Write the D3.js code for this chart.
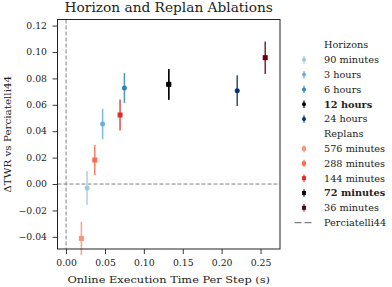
<!DOCTYPE html>
<html><head><meta charset="utf-8">
<script src="https://cdn.jsdelivr.net/npm/d3@7"></script>
<style>body{margin:0;background:#fff}svg{display:block}text{font-family:"DejaVu Serif Condensed","DejaVu Serif",serif;fill:#222}</style>
</head><body><svg id="c" width="392" height="287"></svg>
<script>
const horizonLabels = ["90 minutes","3 hours","6 hours","12 hours","24 hours"];
const horizonX = [0.027, 0.047, 0.075, 0.132, 0.220];
const horizonY = [-0.003, 0.0455, 0.0727, 0.0755, 0.0707];
const horizonErr = [0.0128, 0.0115, 0.0113, 0.0116, 0.0116];
const horizonColors = ["#9ecae1","#6baed6","#3182bd","#000000","#08306b"];

const replanLabels = ["576 minutes","288 minutes","144 minutes","72 minutes","36 minutes"];
const replanX = [0.0197, 0.0369, 0.0694, 0.132, 0.256];
const replanY = [-0.0412, 0.0182, 0.0523, 0.0755, 0.0957];
const replanErr = [0.0126, 0.0113, 0.0118, 0.0116, 0.0123];
const replanColors = ["#fc9272","#fb6a4a","#de2d26","#000000","#67000d"];

const xTicks = [0.00, 0.05, 0.10, 0.15, 0.20, 0.25];
const yTicks = [-0.04, -0.02, 0.00, 0.02, 0.04, 0.06, 0.08, 0.10, 0.12];

const svg = d3.select("#c");
const L = 57.5, R = 280, T = 19.5, B = 249;
const x = d3.scaleLinear().domain([-0.011, 0.275]).range([L, R]);
const y = d3.scaleLinear().domain([-0.0492, 0.1246]).range([B, T]);

// widen condensed glyphs to match the reference's wider serif text
function stretch(sel, f) {
  sel.each(function() {
    const w = this.getComputedTextLength();
    d3.select(this).attr("textLength", w * f).attr("lengthAdjust", "spacingAndGlyphs");
  });
}

svg.append("line").attr("x1", x(0)).attr("x2", x(0)).attr("y1", T).attr("y2", B)
  .attr("stroke", "#808080").attr("stroke-width", 1).attr("stroke-dasharray", "4,2");
svg.append("line").attr("x1", L).attr("x2", R).attr("y1", y(0)).attr("y2", y(0))
  .attr("stroke", "#808080").attr("stroke-width", 1).attr("stroke-dasharray", "4,2");

function drawSeries(xs, ys, es, cols, shape) {
  xs.forEach((xv, i) => {
    const g = svg.append("g");
    g.append("line").attr("x1", x(xv)).attr("x2", x(xv))
      .attr("y1", y(ys[i] - es[i])).attr("y2", y(ys[i] + es[i]))
      .attr("stroke", cols[i]).attr("stroke-width", 1.5).attr("opacity", 0.85);
    if (shape === "circle") {
      g.append("circle").attr("cx", x(xv)).attr("cy", y(ys[i])).attr("r", 2.5).attr("fill", cols[i]);
    } else {
      g.append("rect").attr("x", x(xv) - 2.5).attr("y", y(ys[i]) - 2.5)
        .attr("width", 5).attr("height", 5).attr("fill", cols[i]);
    }
  });
}
drawSeries(horizonX, horizonY, horizonErr, horizonColors, "circle");
drawSeries(replanX, replanY, replanErr, replanColors, "square");

const xa = svg.append("g").attr("transform", `translate(0,${B})`)
  .call(d3.axisBottom(x).tickValues(xTicks).tickFormat(d3.format(".2f")).tickSize(5).tickPadding(6));
const ya = svg.append("g").attr("transform", `translate(${L},0)`)
  .call(d3.axisLeft(y).tickValues(yTicks).tickFormat(d => d3.format(".2f")(d).replace("-", "\u2212")).tickSize(5).tickPadding(5.5));
[xa, ya].forEach(a => {
  a.attr("font-family", null).attr("font-size", null);
  a.select(".domain").remove();
  a.selectAll("text").attr("font-size", 8.6).attr("fill", "#222");
  a.selectAll("line").attr("stroke", "#222").attr("stroke-width", 0.9);
  stretch(a.selectAll("text"), 1.2);
});
svg.append("rect").attr("x", L).attr("y", T).attr("width", R - L).attr("height", B - T)
  .attr("fill", "none").attr("stroke", "#222").attr("stroke-width", 1);

const title = svg.append("text").attr("x", (L + R) / 2).attr("y", 11.5).attr("text-anchor", "middle")
  .attr("font-size", 12.5).text("Horizon and Replan Ablations");
stretch(title, 1.22);
const xl = svg.append("text").attr("x", (L + R) / 2).attr("y", 282.5).attr("text-anchor", "middle")
  .attr("font-size", 9.8).text("Online Execution Time Per Step (s)");
stretch(xl, 1.29);
const yl = svg.append("text").attr("transform", `translate(10.5,${(T + B) / 2}) rotate(-90)`).attr("text-anchor", "middle")
  .attr("font-size", 9.6).text("\u0394TWR vs Perciatelli44");
stretch(yl, 1.2);

const lx = 304, tx = 324, ly0 = 45, dy = 14.8;
const entries = [];
entries.push({label: "Horizons", header: true});
horizonLabels.forEach((l, i) => entries.push({label: l, color: horizonColors[i], shape: "circle", bold: l === "12 hours"}));
entries.push({label: "Replans", header: true});
replanLabels.forEach((l, i) => entries.push({label: l, color: replanColors[i], shape: "square", bold: l === "72 minutes"}));
entries.push({label: "Perciatelli44", dash: true});
entries.forEach((e, i) => {
  const yy = ly0 + i * dy;
  if (e.dash) {
    svg.append("line").attr("x1", lx - 9.5).attr("x2", lx + 9.5).attr("y1", yy).attr("y2", yy)
      .attr("stroke", "#808080").attr("stroke-width", 1.4).attr("stroke-dasharray", "7,3");
  } else if (!e.header) {
    svg.append("line").attr("x1", lx).attr("x2", lx).attr("y1", yy - 3.7).attr("y2", yy + 3.7)
      .attr("stroke", e.color).attr("stroke-width", 1.3).attr("opacity", 0.85);
    if (e.shape === "circle") svg.append("circle").attr("cx", lx).attr("cy", yy).attr("r", 2).attr("fill", e.color);
    else svg.append("rect").attr("x", lx - 2).attr("y", yy - 2).attr("width", 4).attr("height", 4).attr("fill", e.color);
  }
  const t = svg.append("text").attr("x", tx).attr("y", yy + 3.3).attr("font-size", 9)
    .attr("font-weight", e.bold ? "bold" : "normal").text(e.label);
  stretch(t, 1.2);
});
</script></body></html>
